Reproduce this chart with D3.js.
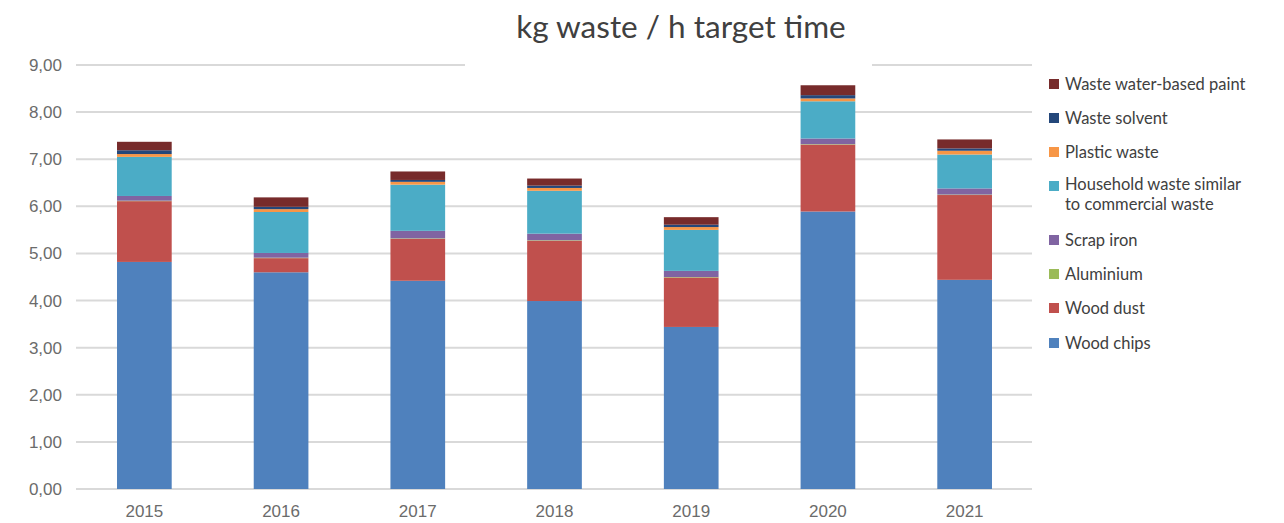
<!DOCTYPE html>
<html>
<head>
<meta charset="utf-8">
<script src="https://cdn.jsdelivr.net/npm/d3@7/dist/d3.min.js"></script>
<style>
  body { margin: 0; background: #fff; }
  svg { display: block; }
</style>
</head>
<body>
<svg id="chart"></svg>
<script>
const years = ["2015", "2016", "2017", "2018", "2019", "2020", "2021"];

// values per waste type, one per year (kg / h target time)
const woodChips = [4.82, 4.60, 4.42, 3.99, 3.44, 5.89, 4.44];
const woodDust = [1.29, 0.30, 0.89, 1.28, 1.05, 1.42, 1.80];
const aluminium = [0.01, 0.01, 0.01, 0.01, 0.01, 0.01, 0.01];
const scrapIron = [0.10, 0.10, 0.16, 0.14, 0.13, 0.12, 0.13];
const household = [0.83, 0.87, 0.98, 0.91, 0.87, 0.79, 0.72];
const plastic = [0.06, 0.06, 0.06, 0.06, 0.06, 0.06, 0.08];
const solvent = [0.08, 0.05, 0.04, 0.05, 0.05, 0.07, 0.05];
const paint = [0.18, 0.20, 0.18, 0.15, 0.16, 0.21, 0.19];

const yTicks = [0, 1, 2, 3, 4, 5, 6, 7, 8, 9];

const series = [
  { name: "Wood chips", vals: woodChips, color: "#4f81bd" },
  { name: "Wood dust", vals: woodDust, color: "#c0504d" },
  { name: "Aluminium", vals: aluminium, color: "#9bbb59" },
  { name: "Scrap iron", vals: scrapIron, color: "#8064a2" },
  { name: "Household waste similar|to commercial waste", vals: household, color: "#4bacc6" },
  { name: "Plastic waste", vals: plastic, color: "#f79646" },
  { name: "Waste solvent", vals: solvent, color: "#24477a" },
  { name: "Waste water-based paint", vals: paint, color: "#772b2b" }
];

const w = 1284, h = 523;
const svg = d3.select("#chart").attr("width", w).attr("height", h);

const x = d3.scaleBand().domain(years).range([76, 1033]).paddingInner(0.6).paddingOuter(0.3);
const y = d3.scaleLinear().domain([0, 9]).range([489, 65]);

// grid
svg.append("g").selectAll("line").data(yTicks).enter().append("line")
  .attr("x1", 76).attr("x2", 1032)
  .attr("y1", d => y(d)).attr("y2", d => y(d))
  .attr("stroke", "#d9d9d9").attr("stroke-width", 2);

// y labels
svg.append("g").selectAll("text").data(yTicks).enter().append("text")
  .attr("x", 62).attr("y", d => y(d)).attr("dy", "0.35em")
  .attr("text-anchor", "end")
  .attr("font-family", "Liberation Sans, Arial, sans-serif").attr("font-size", 17)
  .attr("fill", "#6b6b6b")
  .text(d => d3.format(".2f")(d).replace(".", ","));

// stacked bars
const rows = years.map((yr, i) => {
  const r = { year: yr };
  series.forEach(s => { r[s.name] = s.vals[i]; });
  return r;
});
const stacked = d3.stack().keys(series.map(s => s.name))(rows);

svg.append("g").selectAll("g").data(stacked).enter().append("g")
  .attr("fill", (d, i) => series[i].color)
  .selectAll("rect").data(d => d).enter().append("rect")
  .attr("x", d => x(d.data.year))
  .attr("width", x.bandwidth())
  .attr("y", d => y(d[1]))
  .attr("height", d => y(d[0]) - y(d[1]));

// x labels
svg.append("g").selectAll("text").data(years).enter().append("text")
  .attr("x", d => x(d) + x.bandwidth() / 2).attr("y", 517)
  .attr("text-anchor", "middle")
  .attr("font-family", "Liberation Sans, Arial, sans-serif").attr("font-size", 17)
  .attr("fill", "#6b6b6b")
  .text(d => d);

// title with white box over top gridline
svg.append("rect").attr("x", 465).attr("y", 0).attr("width", 407).attr("height", 68).attr("fill", "#fff");
svg.append("text").attr("x", 681).attr("y", 38)
  .attr("text-anchor", "middle")
  .attr("font-family", "Lato, sans-serif").attr("font-size", 31.5)
  .attr("fill", "#404040")
  .text("kg waste / h target time");

// legend
const legendY = [84, 118, 152, 186, 240, 274, 308, 343];
const legendOrder = series.slice().reverse();
const lg = svg.append("g").selectAll("g").data(legendOrder).enter().append("g")
  .attr("transform", (d, i) => `translate(1049,${legendY[i]})`);
lg.append("rect").attr("x", 0).attr("y", -5).attr("width", 10).attr("height", 10)
  .attr("fill", d => d.color);
const lt = lg.append("g")
  .attr("font-family", "Lato, sans-serif").attr("font-size", 16.5)
  .attr("fill", "#404040");
lt.selectAll("text").data(d => d.name.split("|")).enter().append("text")
  .attr("x", 16)
  .attr("y", (d, i, n) => n.length > 1 ? -2 + i * 20 : 0)
  .attr("dy", "0.35em")
  .text(d => d);
</script>
</body>
</html>
